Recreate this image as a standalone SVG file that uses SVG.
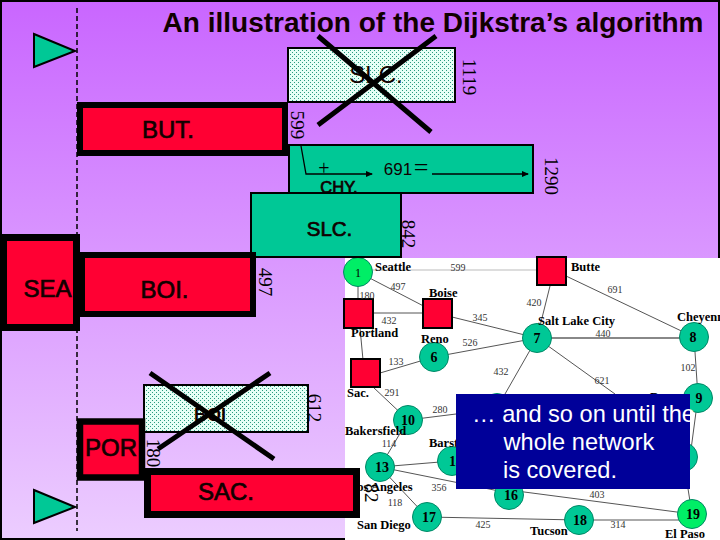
<svg xmlns="http://www.w3.org/2000/svg" width="720" height="540" viewBox="0 0 720 540">
<style>
.s{font-family:"Liberation Serif","Times New Roman",serif;fill:#000}
.a{font-family:"Liberation Sans",Arial,sans-serif;fill:#100}
.lbl{font-size:24px;stroke:#100;stroke-width:.7px;text-anchor:middle}
.rot{font-size:19px;text-anchor:middle}
.red{fill:#ff0033;stroke:#000}
.grn{fill:#00c896;stroke:#000;stroke-width:2}
.dot{fill:url(#dots);stroke:#000;stroke-width:2}
.x{stroke:#000;stroke-width:5;fill:none}
.e{stroke:#555;stroke-width:1;fill:none}
.n{fill:#00c896;stroke:#086;stroke-width:1}
.b{fill:#00ee66;stroke:#086;stroke-width:1}
.sq{fill:#ff0033;stroke:#000;stroke-width:2}
.num{font-size:14px;font-weight:bold;text-anchor:middle}
.city{font-size:12.5px;font-weight:bold}
.w{font-size:10px;fill:#333;text-anchor:middle}
.ln{stroke:#000;stroke-width:1.3;fill:none}
.blue{font-size:23.6px;fill:#fff}
</style>
<defs>
<linearGradient id="bg" x1="0" y1="0" x2="0" y2="1"><stop offset="0" stop-color="#c966ff"/><stop offset="1" stop-color="#eccdff"/></linearGradient>
<pattern id="dots" width="4" height="4" patternUnits="userSpaceOnUse"><rect width="4" height="4" fill="#e6fff6"/><rect x="0" y="0" width="1" height="1" fill="#2a9a80"/><rect x="2" y="2" width="1" height="1" fill="#2a9a80"/></pattern>
<marker id="ah" markerWidth="7" markerHeight="6" refX="6" refY="3" orient="auto" markerUnits="userSpaceOnUse"><path d="M0 0L7 3L0 6z" fill="#000"/></marker>
</defs>
<rect width="720" height="540" fill="url(#bg)"/>
<path d="M1 1H719V539H1z" fill="none" stroke="#000" stroke-width="2"/>
<g id="network">
<rect x="345" y="258" width="375" height="282" fill="#fff"/>
<g id="edges">
<path d="M372 270H537" stroke="#bbb" stroke-width="1" fill="none"/>
<path class="e" d="M551 282L537 338M358 272L437 313M358 280V299M360 328L363 360M373 313H423M452 317L537 338M380 373L434 357M434 357L537 338M566 276L694 337M694 337L698 397M537 338L497 408M537 338L615 394M373 387L408 420M408 420L456 414M408 420L380 467M380 467L452 461M380 467L509 493M380 467L427 517M427 517L579 520M509 490L692 514M683 457L692 514M698 397L690 457"/>
<path d="M537 338H694" stroke="#888" stroke-width="2"/><path d="M579 520H692" stroke="#aaa" stroke-width="2"/>
</g>
<g id="n1"><circle class="b" cx="358" cy="272" r="14.5"/><text class="s" x="358" y="277" text-anchor="middle" style="font-size:12px">1</text></g>
<g id="n6"><circle class="n" cx="434" cy="357" r="14.5"/><text class="s num" x="434" y="362">6</text></g>
<g id="n7"><circle class="n" cx="537" cy="338" r="14.5"/><text class="s num" x="537" y="343">7</text></g>
<g id="n8"><circle class="n" cx="694" cy="337" r="14.5"/><text class="s num" x="693" y="342">8</text></g>
<g id="n9"><circle class="n" cx="698" cy="398" r="14.5"/><text class="s num" x="699" y="403">9</text></g>
<g id="n10"><circle class="n" cx="408" cy="420" r="14.5"/><text class="s num" x="408" y="425">10</text></g>
<g id="n12"><circle class="n" cx="497" cy="408" r="14.5"/></g>
<g id="n13"><circle class="n" cx="380" cy="467" r="14.5"/><text class="s num" x="382" y="472">13</text></g>
<g id="n14"><circle class="n" cx="452" cy="461" r="14.5"/><text class="s num" x="456" y="466">14</text></g>
<g id="n15"><circle class="n" cx="683" cy="457" r="14.5"/></g>
<g id="n16"><circle class="n" cx="509" cy="495" r="14.5"/><text class="s num" x="511" y="500">16</text></g>
<g id="n17"><circle class="n" cx="427" cy="517" r="14.5"/><text class="s num" x="429" y="522">17</text></g>
<g id="n18"><circle class="n" cx="579" cy="520" r="14.5"/><text class="s num" x="580" y="525">18</text></g>
<g id="n19"><circle class="b" cx="692" cy="514" r="14.5"/><text class="s num" x="693" y="519">19</text></g>
<g id="sqButte"><rect class="sq" x="537" y="257" width="29" height="28"/></g>
<g id="sqPortland"><rect class="sq" x="344" y="299" width="29" height="29"/></g>
<g id="sqBoise"><rect class="sq" x="423" y="299" width="29" height="29"/></g>
<g id="sqSac"><rect class="sq" x="351" y="359" width="29" height="28"/></g>
<g id="labels">
<text class="s city" x="375" y="271">Seattle</text>
<text class="s city" x="571" y="271">Butte</text>
<text class="s city" x="429" y="297">Boise</text>
<text class="s city" x="351" y="337">Portland</text>
<text class="s city" x="421" y="343">Reno</text>
<text class="s city" x="538" y="325">Salt Lake City</text>
<text class="s city" x="677" y="321">Cheyenne</text>
<text class="s city" x="347" y="397">Sac.</text>
<text class="s city" x="345" y="435">Bakersfield</text>
<text class="s city" x="429" y="447">Barstow</text>
<text class="s city" x="349" y="491">Los Angeles</text>
<text class="s city" x="357" y="529">San Diego</text>
<text class="s city" x="530" y="535">Tucson</text>
<text class="s city" x="665" y="538">El Paso</text>
<text class="s city" x="650" y="401">Denver</text>
<text class="s w" x="458" y="271">599</text><text class="s w" x="398" y="290">497</text><text class="s w" x="367" y="299">180</text>
<text class="s w" x="389" y="324">432</text><text class="s w" x="480" y="321">345</text><text class="s w" x="470" y="346">526</text>
<text class="s w" x="396" y="365">133</text><text class="s w" x="392" y="396">291</text><text class="s w" x="501" y="375">432</text>
<text class="s w" x="534" y="306">420</text><text class="s w" x="615" y="293">691</text><text class="s w" x="603" y="337">440</text>
<text class="s w" x="688" y="371">102</text><text class="s w" x="602" y="384">621</text><text class="s w" x="440" y="413">280</text>
<text class="s w" x="389" y="447">114</text><text class="s w" x="439" y="491">356</text><text class="s w" x="395" y="506">118</text>
<text class="s w" x="483" y="528">425</text><text class="s w" x="597" y="498">403</text><text class="s w" x="618" y="528">314</text>
</g>
</g>
<g id="connectors">
<path d="M77 8V531" stroke="#000" stroke-width="1.5" stroke-dasharray="5 3" fill="none"/>
</g>
<g id="tri1"><polygon class="grn" points="34,34 75,51 34,67"/></g>
<g id="tri2"><polygon class="grn" points="34,490 75,507 34,523"/></g>
<g id="slcCrossed">
<rect class="dot" x="288" y="48" width="167" height="54"/>
<text class="a" x="376" y="83" style="font-size:24px" text-anchor="middle">SLC.</text>
<path class="x" d="M318 36L431 132M318 125L436 36"/>
</g>
<text class="s rot" transform="translate(463,77) rotate(90)">1119</text>
<text class="s rot" transform="translate(291,125) rotate(90)">599</text>
<g id="but"><rect class="red" x="80" y="105" width="205" height="48" stroke-width="6"/><text class="a lbl" x="168" y="138">BUT.</text></g>
<g id="chy">
<rect class="grn" x="289" y="145" width="244" height="48"/>
<path class="ln" d="M301 146L306 174H372" marker-end="url(#ah)"/>
<path class="ln" d="M432 174H528" marker-end="url(#ah)"/>
<text class="s" x="324" y="175" style="font-size:20px" text-anchor="middle">+</text>
<text class="a" x="398" y="175" style="font-size:17px" text-anchor="middle">691</text>
<text class="s" x="421" y="176" style="font-size:26px" text-anchor="middle">=</text>
<text class="a lbl" x="339" y="192.500" style="font-size:16.500px">CHY.</text>
</g>
<text class="s rot" transform="translate(545,176) rotate(90)">1290</text>
<g id="slcGreen"><rect class="grn" x="251" y="193" width="150" height="64"/><text class="a lbl" x="329.500" y="236" style="font-size:20.500px">SLC.</text></g>
<text class="s rot" transform="translate(402,234) rotate(90)">842</text>
<text class="s rot" transform="translate(259,282) rotate(90)">497</text>
<g id="boi"><rect class="red" x="82" y="255" width="171" height="59" stroke-width="6"/><text class="a lbl" x="164.500" y="298">BOI.</text></g>
<g id="sea"><rect class="red" x="3.500" y="237.500" width="73" height="90" stroke-width="7"/><text class="a lbl" x="47.500" y="297">SEA</text></g>
<g id="poiCrossed">
<rect class="dot" x="144" y="385" width="164" height="47"/>
<text class="a" x="210" y="421" style="font-size:18px;font-weight:bold" text-anchor="middle">BOI</text>
<path class="x" d="M150 373L274 459M158 449L270 373"/>
</g>
<text class="s rot" transform="translate(308,408) rotate(90)">612</text>
<text class="s rot" transform="translate(147,453) rotate(90)">180</text>
<g id="por"><rect class="red" x="80" y="421.500" width="62" height="56" stroke-width="6.500"/><text class="a lbl" x="111" y="456">POR</text></g>
<g id="sac"><rect class="red" x="147.500" y="471.500" width="209" height="43" stroke-width="7"/><text class="a lbl" x="226" y="500">SAC.</text></g>
<text class="s rot" transform="translate(365,493) rotate(90)">82</text>
<g id="note">
<rect x="456" y="394" width="234" height="95" fill="#000099"/>
<text class="a blue" x="472" y="422" style="fill:#fff">… and so on until the</text>
<text class="a blue" x="579" y="450" text-anchor="middle" style="fill:#fff">whole network</text>
<text class="a blue" x="560" y="478" text-anchor="middle" style="fill:#fff">is covered.</text>
</g>
<text class="a" x="433" y="32" style="font-size:28px;font-weight:bold" text-anchor="middle" textLength="541" lengthAdjust="spacing">An illustration of the Dijkstra’s algorithm</text>
</svg>
